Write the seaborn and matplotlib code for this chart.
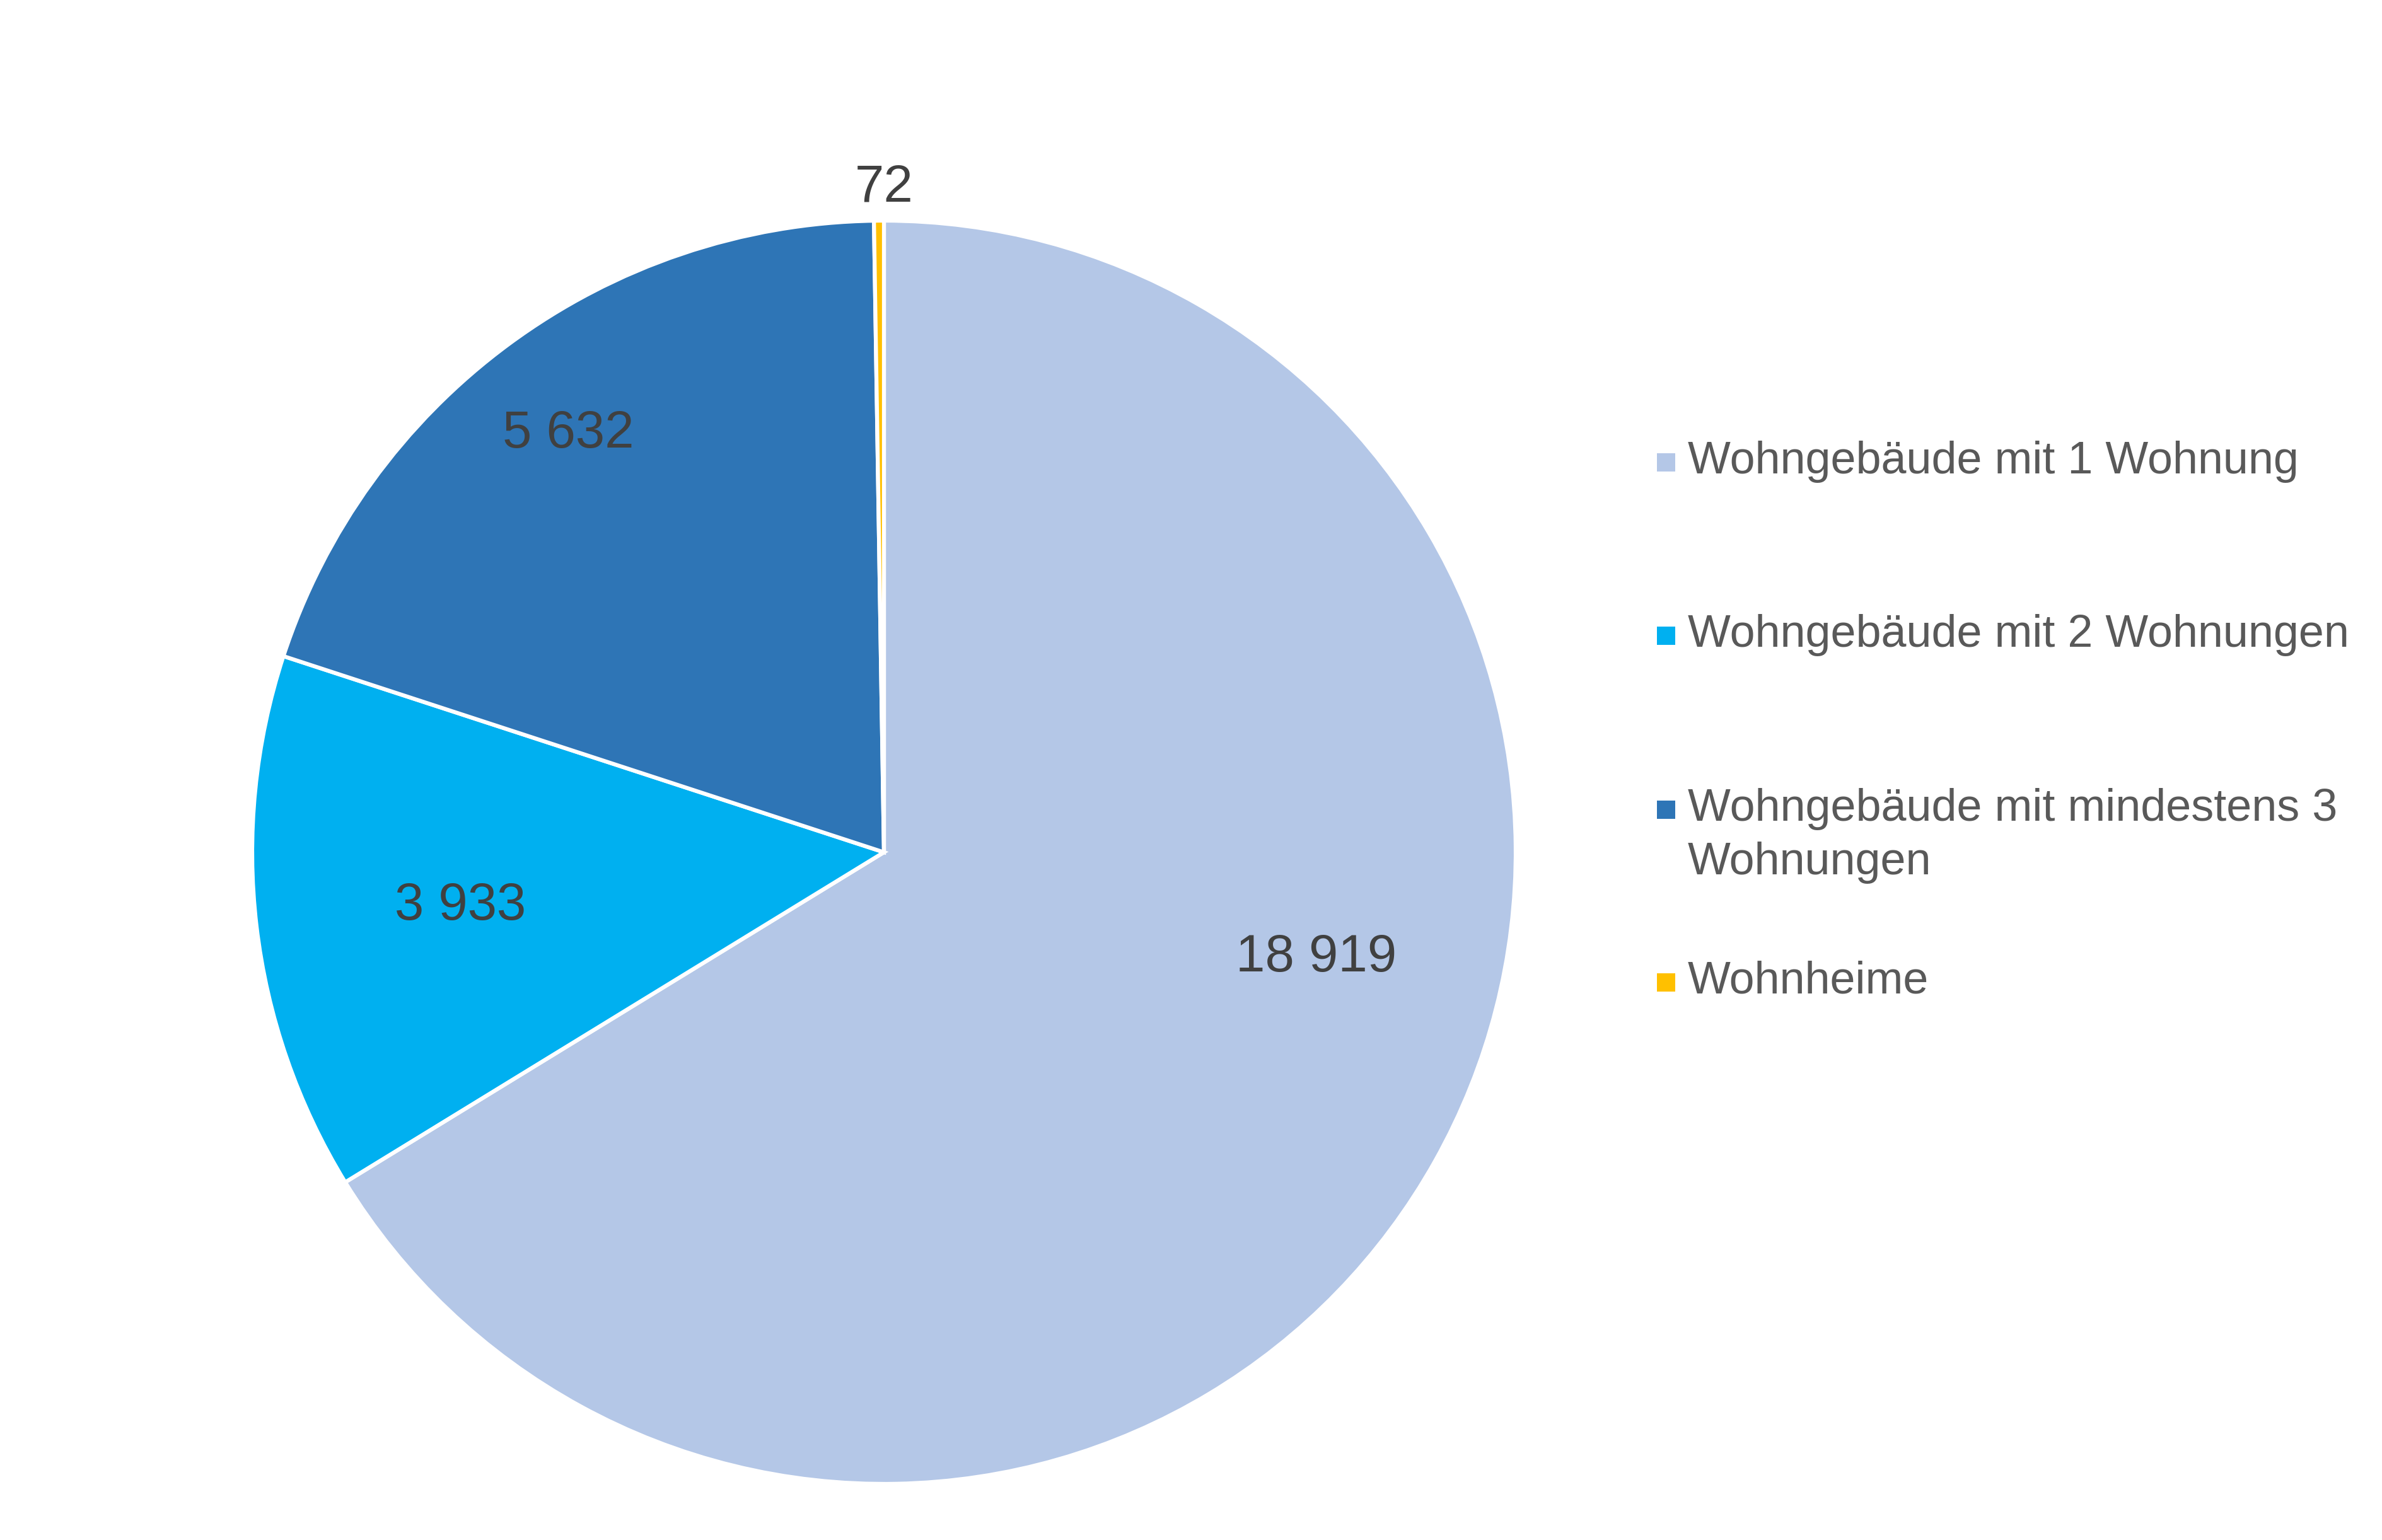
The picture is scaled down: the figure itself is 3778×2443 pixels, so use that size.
import matplotlib
matplotlib.use("Agg")
import matplotlib.pyplot as plt
import seaborn as sns
from matplotlib.patches import Rectangle

# Daten
kategorien = [
    "Wohngebäude mit 1 Wohnung",
    "Wohngebäude mit 2 Wohnungen",
    "Wohngebäude mit mindestens 3\nWohnungen",
    "Wohnheime",
]
werte = [18919, 3933, 5632, 72]
farben = ["#B4C7E7", "#00B0F0", "#2E75B6", "#FFC000"]

# Lage der Beschriftungen (Anteile des Radius), wie im Original
label_pos = [(0.684, -0.158), (-0.671, -0.076), (-0.500, 0.671), (0.0, 1.061)]

sns.set_style("white")
plt.rcParams["font.family"] = ["Liberation Sans", "DejaVu Sans"]

W, H = 3779, 2443
fig = plt.figure(figsize=(W / 300, H / 300), dpi=300)

# Kreis: Mitte (1402, 1352) px, Radius 1002 px
cx, cy, r = 1402, 1352, 1002
ax = fig.add_axes([(cx - r) / W, (H - cy - r) / H, 2 * r / W, 2 * r / H])

ax.pie(werte, colors=farben, startangle=90, counterclock=False, radius=1,
       wedgeprops=dict(edgecolor="white", linewidth=1.5))
ax.set_xlim(-1, 1)
ax.set_ylim(-1, 1)
ax.set_aspect("equal")
ax.axis("off")

for v, (x, y) in zip(werte, label_pos):
    ax.text(x, y, f"{v:,}".replace(",", " "), ha="center", va="center_baseline",
            fontsize=20, color="#404040", clip_on=False)

# Legende rechts
leg_y = [733, 1008, 1284, 1558]
for lab, col, y in zip(kategorien, farben, leg_y):
    fig.add_artist(Rectangle(((2643 - 14.5) / W, (H - y - 14.5) / H), 29 / W, 29 / H,
                             transform=fig.transFigure, facecolor=col, edgecolor="none"))
    fig.text(2677 / W, (H - y + 34) / H, lab, ha="left", va="top",
             fontsize=17.25, color="#595959", linespacing=1.34)

fig.savefig("out.png", dpi=300, facecolor="white")
